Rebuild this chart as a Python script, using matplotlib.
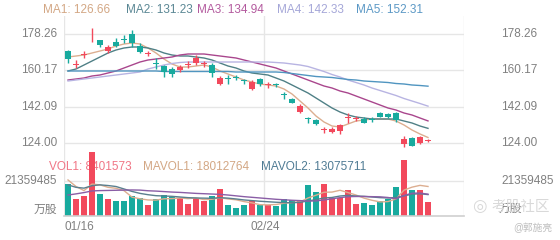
import matplotlib
matplotlib.use('Agg')
import matplotlib.pyplot as plt
from matplotlib.transforms import blended_transform_factory as btf
import numpy as np

plt.rcParams['font.family'] = ['Liberation Sans', 'Noto Sans CJK SC', 'DejaVu Sans']

# ---------------- data ----------------
n_slots = 50
date_labels = ['01/16', '02/24']
date_index = [0, 25]

opens = [169.9, 163.1, 168.0, 177.2, 175.4, 170.05, 174.55, 175.9, 178.4, 172.4,
         168.6, 163.9, 162.4, 161.05, 160.4, 163.1, 163.75, 163.6, 162.9, 153.25,
         156.4, 156.9, 155.05, 150.9, 155.75, 152.75, 153.05, 148.4, 145.75, 139.25,
         136.05, 135.4, 130.25, 129.6, 130.05, 136.4, 136.1, 135.9, 135.9, 139.05,
         138.4, 139.05, 123.4, 126.25, 123.75, 124.9]
closes = [165.9, 163.4, 168.5, 177.6, 172.9, 171.75, 172.55, 175.6, 174.05, 169.55,
          168.9, 163.6, 159.25, 158.4, 162.05, 163.4, 166.25, 163.9, 158.75, 156.25,
          156.1, 156.6, 154.75, 154.65, 153.25, 153.05, 152.75, 148.1, 144.05, 142.55,
          135.75, 133.4, 130.55, 131.0, 132.9, 136.7, 136.4, 134.15, 135.6, 137.05,
          136.75, 135.4, 125.9, 122.55, 126.75, 125.2]
highs = [170.4, 165.4, 170.1, 181.2, 175.4, 172.9, 176.25, 177.9, 180.4, 173.75,
         170.05, 166.25, 162.9, 162.05, 162.9, 165.05, 167.9, 165.05, 163.75, 157.4,
         157.9, 157.9, 155.75, 155.4, 156.25, 154.55, 153.75, 149.65, 146.25, 143.25,
         137.05, 135.75, 132.05, 132.05, 133.4, 138.75, 137.4, 136.75, 137.05, 139.55,
         138.75, 139.55, 127.4, 126.75, 127.4, 125.75]
lows = [163.9, 161.25, 166.3, 174.5, 172.05, 169.05, 172.05, 174.05, 172.05, 169.05,
        167.4, 160.75, 157.05, 156.75, 159.55, 161.25, 162.9, 161.75, 156.75, 152.9,
        153.4, 155.4, 153.25, 150.4, 152.4, 151.25, 151.75, 145.75, 143.75, 138.75,
        133.75, 132.9, 128.75, 128.75, 128.4, 134.05, 135.05, 133.75, 134.55, 136.75,
        136.25, 134.55, 121.75, 122.4, 123.4, 124.25]

ma1 = [166.9, 167.4, 167.9, 168.9, 169.9, 170.9, 172.4, 173.4, 173.9, 173.4,
       171.4, 168.9, 165.9, 163.4, 161.9, 161.9, 162.4, 162.9, 161.9, 159.9,
       158.4, 156.9, 155.4, 154.4, 153.4, 152.9, 152.4, 150.9, 148.4, 144.9,
       141.4, 137.4, 134.4, 132.4, 131.9, 133.4, 134.9, 135.4, 135.9, 135.9,
       135.9, 134.9, 132.9, 130.4, 128.4, 126.66]
ma2 = [159.9, 160.9, 162.9, 164.9, 166.9, 168.9, 170.4, 171.4, 171.9, 171.9,
       171.4, 170.4, 168.9, 167.9, 167.4, 167.4, 166.9, 166.4, 165.4, 163.9,
       162.4, 161.4, 159.9, 158.9, 158.4, 157.9, 156.4, 154.9, 152.9, 150.9,
       148.9, 146.4, 143.9, 141.4, 139.4, 137.9, 136.9, 136.4, 135.9, 135.9,
       135.9, 135.9, 134.9, 133.9, 132.4, 131.23]
ma3 = [155.4, 155.9, 156.4, 157.4, 157.9, 158.9, 159.9, 161.4, 162.9, 164.4,
       165.4, 165.9, 166.4, 166.9, 167.9, 168.4, 168.4, 168.4, 167.9, 167.4,
       166.9, 166.4, 165.4, 164.4, 163.4, 162.4, 161.4, 159.9, 158.4, 156.9,
       155.4, 153.9, 152.4, 151.4, 149.9, 148.9, 147.4, 145.9, 144.4, 142.9,
       141.4, 140.4, 138.9, 137.9, 136.4, 134.94]
ma4 = [154.9, 155.4, 155.9, 156.4, 156.9, 157.4, 157.9, 158.4, 158.9, 159.4,
       160.9, 161.9, 162.9, 163.65, 164.15, 164.4, 164.4, 164.4, 164.4, 164.4,
       164.4, 164.4, 164.4, 164.4, 164.4, 164.4, 164.15, 163.9, 163.4, 162.9,
       162.15, 160.9, 159.65, 158.15, 156.9, 155.4, 154.15, 152.9, 151.4, 150.15,
       148.9, 147.65, 146.15, 144.9, 143.65, 142.33]
ma5 = [159.9, 159.9, 159.9, 159.9, 159.9, 159.9, 159.9, 159.9, 159.9, 159.9,
       159.9, 159.9, 159.65, 159.65, 159.65, 159.65, 159.65, 159.65, 159.65, 159.65,
       159.65, 159.4, 159.4, 159.4, 159.4, 159.4, 159.4, 159.15, 158.65, 158.15,
       157.65, 157.15, 156.9, 156.65, 156.15, 155.65, 155.4, 154.9, 154.65, 154.4,
       154.15, 153.65, 153.4, 152.9, 152.65, 152.31]

volumes = [19.3e6, 10.4e6, 12.2e6, 39.2e6, 13.4e6, 10.4e6, 9.2e6, 9.2e6, 12.2e6, 11.2e6,
           6.6e6, 10.2e6, 13.0e6, 11.3e6, 11.2e6, 7.3e6, 11.2e6, 9.2e6, 12.0e6, 16.5e6,
           6.7e6, 4.7e6, 6.7e6, 9.3e6, 6.7e6, 6.7e6, 6.1e6, 10.4e6, 9.8e6, 9.8e6,
           18.9e6, 14.5e6, 19.3e6, 10.8e6, 10.8e6, 15.9e6, 7.1e6, 8.1e6, 6.7e6, 9.3e6,
           10.2e6, 17.9e6, 34.0e6, 15.7e6, 15.7e6, 8401573]
mavol1 = [22.0e6, 18.0e6, 15.5e6, 19.5e6, 19.0e6, 17.5e6, 16.9e6, 15.5e6, 11.5e6, 10.5e6,
          9.8e6, 9.7e6, 10.5e6, 10.6e6, 11.0e6, 10.6e6, 11.0e6, 10.0e6, 10.2e6, 11.2e6,
          10.4e6, 9.9e6, 8.8e6, 8.0e6, 6.9e6, 6.8e6, 7.0e6, 7.8e6, 8.2e6, 8.6e6,
          11.0e6, 12.7e6, 14.5e6, 14.6e6, 15.7e6, 14.3e6, 12.8e6, 10.9e6, 9.6e6, 8.6e6,
          8.8e6, 10.4e6, 15.8e6, 17.6e6, 18.7e6, 18012764]
mavol2 = [19.0e6, 17.5e6, 17.0e6, 18.5e6, 19.0e6, 18.6e6, 18.0e6, 16.5e6, 15.0e6, 13.8e6,
          13.0e6, 12.4e6, 12.2e6, 12.0e6, 11.6e6, 11.2e6, 11.0e6, 10.9e6, 10.8e6, 11.2e6,
          10.9e6, 10.4e6, 9.8e6, 9.4e6, 9.0e6, 8.7e6, 8.4e6, 8.2e6, 8.1e6, 8.3e6,
          9.2e6, 10.0e6, 11.0e6, 11.3e6, 12.2e6, 12.6e6, 12.2e6, 12.0e6, 11.6e6, 11.2e6,
          11.0e6, 11.3e6, 12.3e6, 13.3e6, 13.6e6, 13075711]
mavol3 = [12.8e6, 13.5e6, 14.3e6, 15.3e6, 15.5e6, 15.6e6, 15.7e6, 15.8e6, 15.9e6, 15.8e6,
          15.4e6, 15.2e6, 14.9e6, 14.6e6, 14.4e6, 14.1e6, 13.8e6, 13.6e6, 13.4e6, 13.2e6,
          12.8e6, 12.3e6, 11.8e6, 11.4e6, 11.0e6, 10.6e6, 10.2e6, 9.9e6, 9.6e6, 9.4e6,
          9.1e6, 9.2e6, 9.8e6, 10.5e6, 11.2e6, 11.8e6, 11.9e6, 11.9e6, 11.8e6, 11.7e6,
          11.3e6, 10.5e6, 12.5e6, 13.9e6, 14.0e6, 13.3e6]

price_ticks = [124.00, 142.09, 160.17, 178.26]
vol_tick = 21359485

ma_names = ['MA1', 'MA2', 'MA3', 'MA4', 'MA5']
ma_series = [ma1, ma2, ma3, ma4, ma5]
ma_line_colors = ['#dcae90', '#4f8086', '#a9468d', '#b8b4e2', '#5095c0']
ma_text_colors = ['#d3a784', '#5a8794', '#b35a9e', '#a5a7d8', '#5b98c5']

UP = '#F2495C'
DOWN = '#18AA9E'
GRID = '#e6e6e6'
LABEL = '#808080'

# ---------------- figure ----------------
W, H = 560, 240
fig = plt.figure(figsize=(W / 100, H / 100), dpi=100)
L, R = 64, 464
ax_p = fig.add_axes([L / W, 1 - 150 / H, (R - L) / W, 134 / H])
ax_v = fig.add_axes([L / W, 1 - 216 / H, (R - L) / W, 66 / H])

for ax in (ax_p, ax_v):
    ax.set_xlim(-0.5, n_slots - 0.5)
    for s in ax.spines.values():
        s.set_visible(False)
    ax.set_xticks([])
    ax.set_yticks([])
    for xv in (-0.5, 24.5, n_slots - 0.5):
        ax.axvline(xv, color=GRID, lw=1.0, zorder=0)

ax_p.set_ylim(120.4, 187.4)
ax_v.set_ylim(0, vol_tick * 66 / 35)

idx = np.arange(len(opens))
o = np.array(opens); c = np.array(closes)
hi = np.array(highs); lo = np.array(lows)
up = c >= o
cols = [UP if u else DOWN for u in up]

# price grid
for t in price_ticks:
    ax_p.axhline(t, color=GRID, lw=1.0, zorder=0)

# candles
bw = 0.75
ax_p.vlines(idx, lo, hi, colors=cols, lw=1.0, zorder=3)
body_bot = np.minimum(o, c)
body_h = np.maximum(np.abs(c - o), 0.45)
ax_p.bar(idx, body_h, bottom=body_bot, width=bw, color=cols, lw=0, zorder=4)

# MA lines
for s, col in zip(ma_series, ma_line_colors):
    ax_p.plot(idx, s, color=col, lw=1.0, zorder=2)

# volume
ax_v.axhline(vol_tick, color=GRID, lw=1.0, zorder=0)
ax_v.axhline(0, color='#cfcfcf', lw=1.2, zorder=5, clip_on=False)
ax_v.bar(idx, volumes, width=bw, color=cols, lw=0, zorder=3)
ax_v.plot(idx, mavol1, color='#dcae90', lw=1.0, zorder=4)
ax_v.plot(idx, mavol2, color='#5a7f8e', lw=1.0, zorder=4)
ax_v.plot(idx, mavol3, color='#8a5ea6', lw=1.0, zorder=4)

FS = 8.5
fy = lambda y: 1 - y / H
fx = lambda x: x / W

# MA legend
ma_x = [43, 126, 197, 277, 356]
for name, s, col, x in zip(ma_names, ma_series, ma_text_colors, ma_x):
    fig.text(fx(x), fy(10), f'{name}: {s[-1]:.2f}', color=col, fontsize=FS,
             ha='left', va='center')

# volume legend (drawn under the bars, as in the reference)
vol_texts = [(f'VOL1: {int(volumes[-1])}', '#f07585', 49),
             (f'MAVOL1: {int(mavol1[-1])}', '#d3a784', 143),
             (f'MAVOL2: {int(mavol2[-1])}', '#4f7b94', 261)]
for txt, col, x in vol_texts:
    ax_v.text(fx(x), fy(167), txt, color=col, fontsize=FS, ha='left', va='center',
              transform=fig.transFigure, zorder=1)

# axis labels (left and right)
tp = btf(fig.transFigure, ax_p.transData)
tv = btf(fig.transFigure, ax_v.transData)
for t in price_ticks:
    ax_p.text(fx(57), t, f'{t:.2f}', transform=tp, color=LABEL, fontsize=FS, ha='right', va='center')
    ax_p.text(fx(501), t, f'{t:.2f}', transform=tp, color=LABEL, fontsize=FS, ha='left', va='center')
ax_v.text(fx(57), vol_tick, f'{vol_tick}', transform=tv, color=LABEL, fontsize=FS, ha='right', va='center')
ax_v.text(fx(501), vol_tick, f'{vol_tick}', transform=tv, color=LABEL, fontsize=FS, ha='left', va='center')
fig.text(fx(57), fy(210), '万股', color=LABEL, fontsize=FS, ha='right', va='center')
fig.text(fx(499), fy(209), '万股', color=LABEL, fontsize=FS, ha='left', va='center')

# date labels
td = btf(ax_v.transData, fig.transFigure)
for lab, i in zip(date_labels, date_index):
    if i == 0:
        ax_v.text(i - 0.45, fy(227), lab, transform=td, color=LABEL,
                  fontsize=FS, ha='left', va='center')
    else:
        ax_v.text(i - 0.4, fy(227), lab, transform=td, color=LABEL,
                  fontsize=FS, ha='center', va='center')

# watermark
fig.text(fx(479), fy(206), '◎', color='#d9d9d9', fontsize=12, ha='center', va='center',
         family=['DejaVu Sans'])
fig.text(fx(491), fy(207), '考股社区', color='#d9d9d9', fontsize=10.5, ha='left', va='center')
fig.text(fx(513), fy(228), '@郭施亮', color='#bdbdbd', fontsize=7, ha='left', va='center')

fig.savefig('out.png', dpi=100, facecolor='white')
